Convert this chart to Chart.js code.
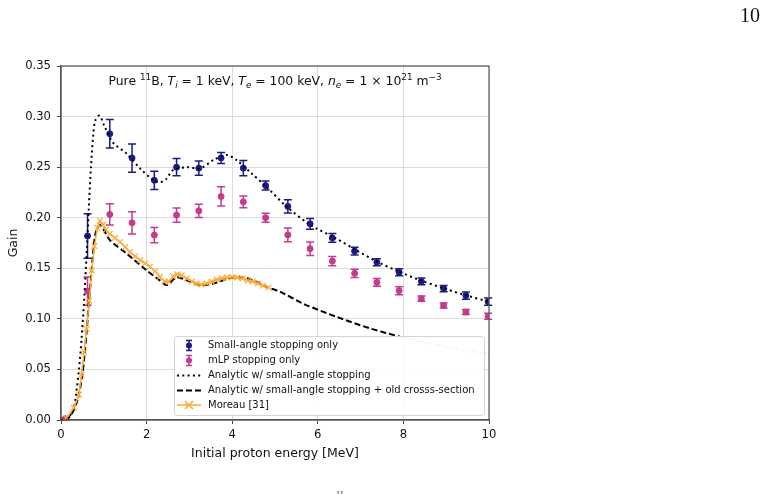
<!DOCTYPE html>
<html>
<head>
<meta charset="utf-8">
<script src="https://cdn.jsdelivr.net/npm/chart.js@4"></script>
<style>
  html, body { margin: 0; padding: 0; background: #fff; }
  #wrap { position: relative; width: 765px; height: 494px; }
  canvas { display: block; }
</style>
</head>
<body>
<div id="wrap"><canvas id="c" width="765" height="494"></canvas></div>
<script>
// ======= Data =======
const simEnergy = [0.10, 0.62, 1.14, 1.66, 2.18, 2.70, 3.22, 3.74, 4.26, 4.78, 5.30, 5.82, 6.34, 6.86, 7.38, 7.90, 8.42, 8.94, 9.46, 9.98];
const smallAngleGain = [0.001, 0.182, 0.283, 0.259, 0.237, 0.250, 0.249, 0.259, 0.249, 0.2318, 0.2112, 0.194, 0.180, 0.167, 0.156, 0.146, 0.137, 0.130, 0.123, 0.117];
const smallAngleErr  = [0.001, 0.022, 0.014, 0.014, 0.009, 0.0085, 0.007, 0.0055, 0.0075, 0.0045, 0.0066, 0.0053, 0.0043, 0.0038, 0.0035, 0.0035, 0.0033, 0.0031, 0.0036, 0.0036];
const mlpGain = [0.001, 0.1275, 0.2033, 0.195, 0.1828, 0.2026, 0.2068, 0.2210, 0.2157, 0.2000, 0.1830, 0.1693, 0.1571, 0.145, 0.136, 0.1278, 0.1199, 0.1133, 0.1067, 0.1025];
const mlpErr  = [0.001, 0.014, 0.0105, 0.011, 0.0075, 0.007, 0.0065, 0.0095, 0.0058, 0.0045, 0.0068, 0.0066, 0.0046, 0.004, 0.0038, 0.004, 0.0026, 0.0025, 0.0025, 0.003];

const analyticE    = [0, 0.15, 0.30, 0.35, 0.42, 0.48, 0.54, 0.60, 0.65, 0.70, 0.75, 0.80, 0.90, 1.00, 1.22, 1.53, 1.85, 2.16, 2.31, 2.45, 2.62, 2.94, 3.25, 3.56, 3.87, 4.10, 4.42, 4.80, 5.27, 5.82, 6.36, 6.83, 7.36, 7.88, 8.40, 8.92, 9.44, 10];
const analyticGain = [0, 0.001, 0.012, 0.025, 0.050, 0.080, 0.118, 0.165, 0.210, 0.250, 0.280, 0.296, 0.301, 0.292, 0.274, 0.2635, 0.2487, 0.237, 0.235, 0.238, 0.247, 0.250, 0.2487, 0.257, 0.262, 0.257, 0.245, 0.2305, 0.211, 0.193, 0.181, 0.1696, 0.157, 0.147, 0.138, 0.1305, 0.1235, 0.117];

const oldXsE    = [0.10, 0.20, 0.30, 0.40, 0.50, 0.55, 0.60, 0.65, 0.70, 0.75, 0.80, 0.90, 1.00, 1.14, 1.53, 2.00, 2.31, 2.47, 2.70, 2.94, 3.25, 3.56, 4.03, 4.40, 4.80, 5.12, 5.66, 6.44, 7.22, 7.92];
const oldXsGain = [0, 0.003, 0.010, 0.022, 0.045, 0.065, 0.088, 0.115, 0.140, 0.165, 0.183, 0.193, 0.188, 0.178, 0.1647, 0.148, 0.138, 0.1334, 0.141, 0.138, 0.1334, 0.135, 0.141, 0.1395, 0.1317, 0.1268, 0.115, 0.102, 0.0906, 0.0823];
const oldXsTailE    = [7.92, 8.50, 9.00, 9.50, 10];
const oldXsTailGain = [0.0823, 0.077, 0.0725, 0.0685, 0.065];

const moreauE    = [0.12, 0.30, 0.42, 0.48, 0.54, 0.60, 0.66, 0.72, 0.78, 0.85, 0.91, 0.98, 1.05, 1.14, 1.26, 1.38, 1.50, 1.61, 1.73, 1.85, 1.97, 2.08, 2.20, 2.31, 2.42, 2.52, 2.62, 2.72, 2.82, 2.94, 3.06, 3.16, 3.28, 3.40, 3.52, 3.64, 3.76, 3.88, 4.00, 4.12, 4.24, 4.36, 4.48, 4.60, 4.72, 4.85];
const moreauGain = [0.002, 0.012, 0.025, 0.045, 0.067, 0.090, 0.118, 0.148, 0.172, 0.190, 0.197, 0.193, 0.188, 0.184, 0.180, 0.176, 0.171, 0.166, 0.162, 0.158, 0.155, 0.1515, 0.147, 0.1416, 0.137, 0.137, 0.142, 0.144, 0.143, 0.140, 0.137, 0.135, 0.134, 0.135, 0.137, 0.139, 0.140, 0.141, 0.1415, 0.141, 0.140, 0.138, 0.137, 0.135, 0.133, 0.131];

const xTicks = [0, 2, 4, 6, 8, 10];
const yTicks = [0, 0.05, 0.10, 0.15, 0.20, 0.25, 0.30, 0.35];

const legendLabels = ['Small-angle stopping only', 'mLP stopping only', 'Analytic w/ small-angle stopping',
  'Analytic w/ small-angle stopping + old crosss-section', 'Moreau [31]'];

// ======= Style =======
const BLUE = '#1c1a86';
const PINK = '#c63a8c';
const ORANGE = '#ffa836';
const FONT = '"DejaVu Sans", sans-serif';
const INK = '#111';

const pts = (xs, ys) => xs.map((x, i) => ({ x, y: ys[i] }));

// ======= Plugins =======
function drawErrBars(chart, idx, errs, color) {
  const { ctx, scales: { x, y } } = chart;
  const ds = chart.data.datasets[idx];
  ctx.save();
  ctx.strokeStyle = color;
  ctx.lineWidth = 1.5;
  ds.data.forEach((p, i) => {
    const px = x.getPixelForValue(p.x);
    const top = y.getPixelForValue(p.y + errs[i]);
    const bot = y.getPixelForValue(p.y - errs[i]);
    ctx.beginPath();
    ctx.moveTo(px, top); ctx.lineTo(px, bot);
    ctx.moveTo(px - 4, top); ctx.lineTo(px + 4, top);
    ctx.moveTo(px - 4, bot); ctx.lineTo(px + 4, bot);
    ctx.stroke();
  });
  ctx.restore();
}

function drawRich(ctx, parts, cx, y) {
  let total = 0;
  parts.forEach(p => { ctx.font = p.f; p.w = ctx.measureText(p.t).width; total += p.w; });
  let x = cx - total / 2;
  ctx.textBaseline = 'alphabetic';
  ctx.textAlign = 'left';
  parts.forEach(p => { ctx.font = p.f; ctx.fillText(p.t, x, y + (p.dy || 0)); x += p.w; });
}

const extras = {
  id: 'extras',
  beforeDatasetsDraw(chart) {
    drawErrBars(chart, 0, smallAngleErr, BLUE);
    drawErrBars(chart, 1, mlpErr, PINK);
  },
  afterDraw(chart) {
    const { ctx, chartArea: a } = chart;
    ctx.save();
    // frame
    ctx.strokeStyle = '#555';
    ctx.lineWidth = 1.2;
    ctx.strokeRect(a.left, a.top, a.right - a.left, a.bottom - a.top);

    // in-axes title
    ctx.fillStyle = INK;
    const n = '12.4px ' + FONT, it = 'italic 12.4px ' + FONT, sm = '8.8px ' + FONT, smi = 'italic 8.8px ' + FONT;
    drawRich(ctx, [
      { t: 'Pure ', f: n }, { t: '11', f: sm, dy: -5 }, { t: 'B, ', f: n },
      { t: 'T', f: it }, { t: 'i', f: smi, dy: 2.5 }, { t: ' = 1 keV, ', f: n },
      { t: 'T', f: it }, { t: 'e', f: smi, dy: 2.5 }, { t: ' = 100 keV, ', f: n },
      { t: 'n', f: it }, { t: 'e', f: smi, dy: 2.5 }, { t: ' = 1 \u00d7 10', f: n },
      { t: '21', f: sm, dy: -5 }, { t: ' m', f: n }, { t: '\u22123', f: sm, dy: -5 }
    ], (a.left + a.right) / 2, 85);

    // legend
    const lx = 174.5, ly = 336.5, lw = 310, lh = 79;
    ctx.beginPath();
    ctx.roundRect(lx, ly, lw, lh, 3);
    ctx.fillStyle = 'rgba(255,255,255,0.85)';
    ctx.fill();
    ctx.strokeStyle = '#d4d4d4';
    ctx.lineWidth = 1;
    ctx.stroke();
    const rows = [345.5, 360.5, 375.5, 390.5, 405];
    const hx = 189;
    // errorbar handles
    [[BLUE, rows[0]], [PINK, rows[1]]].forEach(([c, ry]) => {
      ctx.strokeStyle = c; ctx.fillStyle = c; ctx.lineWidth = 1.5;
      ctx.beginPath();
      ctx.moveTo(hx, ry - 5); ctx.lineTo(hx, ry + 5);
      ctx.moveTo(hx - 3, ry - 5); ctx.lineTo(hx + 3, ry - 5);
      ctx.moveTo(hx - 3, ry + 5); ctx.lineTo(hx + 3, ry + 5);
      ctx.stroke();
      ctx.beginPath(); ctx.arc(hx, ry, 3, 0, Math.PI * 2); ctx.fill();
    });
    // line handles
    ctx.strokeStyle = '#000'; ctx.lineWidth = 2;
    ctx.setLineDash([2, 3.3]);
    ctx.beginPath(); ctx.moveTo(177, rows[2]); ctx.lineTo(201, rows[2]); ctx.stroke();
    ctx.setLineDash([6, 3]);
    ctx.beginPath(); ctx.moveTo(177, rows[3]); ctx.lineTo(201, rows[3]); ctx.stroke();
    ctx.setLineDash([]);
    ctx.strokeStyle = ORANGE; ctx.lineWidth = 1.5;
    ctx.beginPath(); ctx.moveTo(177, rows[4]); ctx.lineTo(201, rows[4]);
    ctx.moveTo(hx - 4, rows[4] - 4); ctx.lineTo(hx + 4, rows[4] + 4);
    ctx.moveTo(hx - 4, rows[4] + 4); ctx.lineTo(hx + 4, rows[4] - 4);
    ctx.stroke();
    ctx.fillStyle = INK;
    ctx.font = '10px ' + FONT;
    ctx.textBaseline = 'middle';
    ctx.textAlign = 'left';
    legendLabels.forEach((t, i) => ctx.fillText(t, 208, rows[i]));

    // page furniture
    ctx.font = '20px "Liberation Serif", serif';
    ctx.textAlign = 'right';
    ctx.textBaseline = 'alphabetic';
    ctx.fillText('10', 760, 22);
    ctx.font = '8px "Liberation Serif", serif';
    ctx.textAlign = 'left';
    ctx.fillText('11', 336, 497);
    ctx.restore();
  }
};

// ======= Chart =======
new Chart(document.getElementById('c'), {
  type: 'scatter',
  data: {
    datasets: [
      { label: legendLabels[0], data: pts(simEnergy, smallAngleGain), backgroundColor: BLUE, borderColor: BLUE,
        pointRadius: 3, pointHoverRadius: 3, showLine: false, order: 5 },
      { label: legendLabels[1], data: pts(simEnergy, mlpGain), backgroundColor: PINK, borderColor: PINK,
        pointRadius: 3, pointHoverRadius: 3, showLine: false, order: 4 },
      { label: legendLabels[2], data: pts(analyticE, analyticGain), borderColor: '#000', borderWidth: 2,
        borderDash: [2, 3.3], showLine: true, pointRadius: 0, tension: 0.3, order: 3 },
      { label: legendLabels[3], data: pts(oldXsE, oldXsGain), borderColor: '#000', borderWidth: 2,
        borderDash: [6, 3], showLine: true, pointRadius: 0, tension: 0.3, order: 2 },
      { label: 'tail', data: pts(oldXsTailE, oldXsTailGain), borderColor: '#c8c8c8', borderWidth: 2,
        borderDash: [6, 3], showLine: true, pointRadius: 0, tension: 0.3, order: 2 },
      { label: legendLabels[4], data: pts(moreauE, moreauGain), borderColor: ORANGE, backgroundColor: ORANGE,
        borderWidth: 1.5, showLine: true, pointStyle: 'crossRot', pointRadius: 4, pointBorderWidth: 1.2,
        tension: 0, order: 1 }
    ]
  },
  options: {
    responsive: false,
    animation: false,
    devicePixelRatio: 1,
    layout: { padding: { left: 0, top: 66, right: 276, bottom: 29 } },
    plugins: { legend: { display: false }, tooltip: { enabled: false } },
    scales: {
      x: {
        type: 'linear', min: 0, max: 10,
        afterFit: s => { s.height = 45; },
        afterBuildTicks: s => { s.ticks = xTicks.map(v => ({ value: v })); },
        ticks: { font: { family: FONT, size: 11.6 }, color: INK, padding: 4, maxRotation: 0,
                 callback: v => String(v) },
        grid: { color: '#dcdcdc', tickColor: '#444', tickLength: 4, lineWidth: 1 },
        border: { color: '#555', width: 1.2 },
        title: { display: true, text: 'Initial proton energy [MeV]', color: INK,
                 font: { family: FONT, size: 12.5 }, padding: { top: 0, bottom: 4 } }
      },
      y: {
        type: 'linear', min: 0, max: 0.35,
        afterFit: s => { s.width = 61; },
        afterBuildTicks: s => { s.ticks = yTicks.map(v => ({ value: v })); },
        ticks: { font: { family: FONT, size: 11.6 }, color: INK, padding: 6,
                 callback: v => v.toFixed(2) },
        grid: { color: '#dcdcdc', tickColor: '#444', tickLength: 4, lineWidth: 1 },
        border: { color: '#555', width: 1.2 },
        title: { display: true, text: 'Gain', color: INK,
                 font: { family: FONT, size: 12.5 }, padding: { top: 6, bottom: 6 } }
      }
    }
  },
  plugins: [extras]
});
</script>
</body>
</html>
